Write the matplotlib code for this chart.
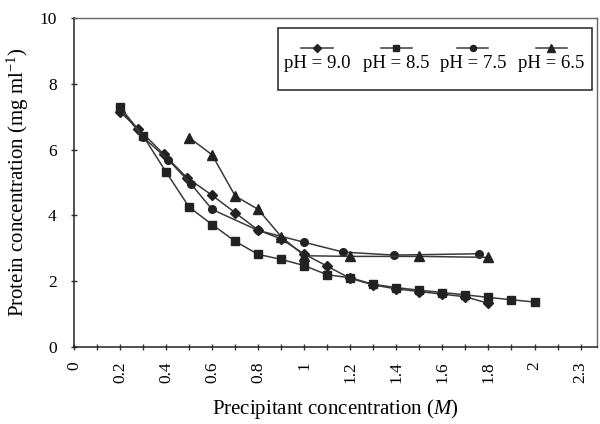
import numpy as np
import matplotlib
matplotlib.use('Agg')
import matplotlib.pyplot as plt
from matplotlib.lines import Line2D
from matplotlib.patches import Rectangle

plt.rcParams['font.family'] = ['Liberation Serif', 'DejaVu Serif']
plt.rcParams['mathtext.fontset'] = 'custom'
plt.rcParams['mathtext.rm'] = 'Liberation Serif'
plt.rcParams['mathtext.it'] = 'Liberation Serif:italic'

# --- data ---
x_ph90 = [0.2, 0.28, 0.39, 0.49, 0.6, 0.7, 0.8, 0.9, 1.0, 1.1, 1.2, 1.3, 1.4, 1.5, 1.6, 1.7, 1.8]
y_ph90 = [7.15, 6.63, 5.86, 5.15, 4.61, 4.08, 3.55, 3.28, 2.82, 2.45, 2.08, 1.88, 1.76, 1.68, 1.6, 1.52, 1.32]

x_ph85 = [0.2, 0.3, 0.4, 0.5, 0.6, 0.7, 0.8, 0.9, 1.0, 1.1, 1.2, 1.3, 1.4, 1.5, 1.6, 1.7, 1.8, 1.9, 2.0]
y_ph85 = [7.3, 6.42, 5.32, 4.25, 3.72, 3.21, 2.81, 2.66, 2.47, 2.19, 2.1, 1.9, 1.8, 1.72, 1.65, 1.58, 1.5, 1.43, 1.36]

x_ph75 = [0.2, 0.3, 0.41, 0.51, 0.6, 0.8, 1.0, 1.17, 1.39, 1.76]
y_ph75 = [7.25, 6.38, 5.69, 4.94, 4.18, 3.54, 3.18, 2.88, 2.79, 2.83]

x_ph65 = [0.5, 0.6, 0.7, 0.8, 0.9, 1.0, 1.2, 1.5, 1.8]
y_ph65 = [6.37, 5.84, 4.59, 4.18, 3.35, 2.77, 2.75, 2.75, 2.72]

labels = ['pH = 9.0', 'pH = 8.5', 'pH = 7.5', 'pH = 6.5']
xtick_pos = [0, 0.2, 0.4, 0.6, 0.8, 1.0, 1.2, 1.4, 1.6, 1.8, 2.0, 2.2]
xtick_labels = ['0', '0.2', '0.4', '0.6', '0.8', '1', '1.2', '1.4', '1.6', '1.8', '2', '2.3']
ytick_pos = [0, 2, 4, 6, 8, 10]

series = [(x_ph90, y_ph90, 'D', 4.8), (x_ph85, y_ph85, 's', 5.5),
          (x_ph75, y_ph75, 'o', 5.5), (x_ph65, y_ph65, '^', 6.5)]

fig = plt.figure(figsize=(6, 4.24), dpi=100)
ax = fig.add_axes([0.1233, 0.1823, 0.8712, 0.7745])

lc = '#3a3a3a'
for xs, ys, m, ms in series:
    ax.plot(xs, ys, color=lc, lw=1.1, marker=m, ms=ms, mfc='#222222', mec='#222222')

ax.set_xlim(0, 2.27)
ax.set_ylim(0, 10)
ax.set_xticks(np.arange(0, 2.25, 0.1), minor=True)
ax.set_xticks(xtick_pos)
ax.set_xticklabels(xtick_labels, rotation=90, fontsize=12.5)
ax.set_yticks(ytick_pos)
ax.set_yticklabels([str(v) for v in ytick_pos], fontsize=12.5)
ax.tick_params(axis='both', which='both', direction='inout', length=5, width=1, color='#333333')
ax.tick_params(axis='x', which='both', pad=8)
ax.tick_params(axis='y', which='both', pad=10)

for s in ['left', 'bottom']:
    ax.spines[s].set_color('#222222')
    ax.spines[s].set_linewidth(1.1)
for s in ['top', 'right']:
    ax.spines[s].set_color('#666666')
    ax.spines[s].set_linewidth(1.0)

ax.set_xlabel('Precipitant concentration ($\\it{M}$)', fontsize=15, labelpad=10)
ax.set_ylabel('Protein concentration (mg ml$^{-1}$)', fontsize=15, labelpad=6)

# legend: handles stacked above labels, drawn in axes coordinates
ax.add_patch(Rectangle((0.390, 0.781), 0.601, 0.189, transform=ax.transAxes,
                       fill=False, ec='#333333', lw=1.2, zorder=5))
hx = [0.465, 0.617, 0.763, 0.913]
for i, (lab, (xs, ys, m, ms)) in enumerate(zip(labels, series)):
    ax.add_line(Line2D([hx[i] - 0.03, hx[i] + 0.03], [0.909, 0.909], transform=ax.transAxes,
                       color=lc, lw=1.1, zorder=6))
    ax.plot([hx[i]], [0.909], transform=ax.transAxes, marker=m, ms=ms * 0.8,
            color='#222222', ls='none', zorder=6)
    ax.text(hx[i], 0.862, lab, transform=ax.transAxes, ha='center', va='center',
            fontsize=13.5, zorder=6)

fig.savefig('out.png', dpi=100)
